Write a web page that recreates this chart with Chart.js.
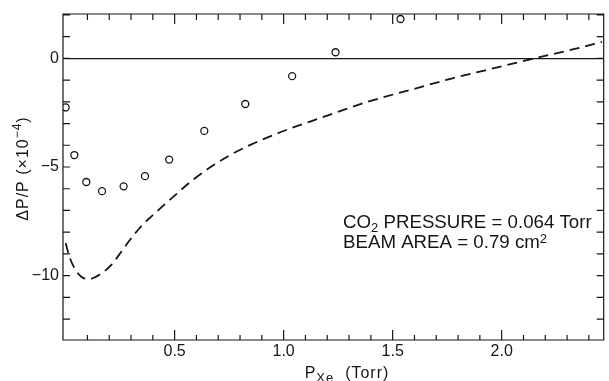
<!DOCTYPE html>
<html>
<head>
<meta charset="utf-8">
<script src="https://cdn.jsdelivr.net/npm/chart.js@4/dist/chart.umd.min.js"></script>
<style>
  html, body { margin: 0; padding: 0; background: #fff; }
</style>
</head>
<body>
<canvas id="xe-chart" width="609" height="381"></canvas>
<script>
// measured points (open circles)
var measuredP = [0.0, 0.04, 0.095, 0.167, 0.266, 0.364, 0.475, 0.636, 0.824, 1.039, 1.238, 1.536];
var measuredDelta = [-2.26, -4.45, -5.69, -6.11, -5.89, -5.42, -4.66, -3.34, -2.10, -0.82, 0.28, 1.81];

// calculated curve (dashed)
var calcP = [0.0, 0.02, 0.05, 0.08, 0.11, 0.157, 0.211, 0.256, 0.293, 0.338, 0.383, 0.429, 0.504, 0.58, 0.67, 0.76, 0.85, 0.96, 1.06, 1.15, 1.275, 1.395, 1.6, 1.77, 1.92, 2.07, 2.15, 2.33, 2.46];
var calcDelta = [-8.5, -9.2, -9.8, -10.1, -10.15, -9.95, -9.49, -8.89, -8.38, -7.83, -7.37, -6.95, -6.28, -5.62, -4.97, -4.42, -3.97, -3.5, -3.12, -2.81, -2.37, -1.97, -1.4, -0.93, -0.56, -0.2, 0.0, 0.42, 0.76];

// axis ticks
var xTicks = [0.1, 0.2, 0.3, 0.4, 0.5, 0.6, 0.7, 0.8, 0.9, 1.0, 1.1, 1.2, 1.3, 1.4, 1.5, 1.6, 1.7, 1.8, 1.9, 2.0, 2.1, 2.2, 2.3, 2.4];
var xLabels = [0.5, 1.0, 1.5, 2.0];
var yTicks = [-12, -11, -10, -9, -8, -7, -6, -5, -4, -3, -2, -1, 0, 1, 2];
var yLabels = [0, -5, -10];

var FONT = '"Liberation Sans", Arial, sans-serif';
var INK = '#161616';

function toPoints(xs, ys) {
  return xs.map(function(x, i) { return { x: x, y: ys[i] }; });
}

// draw a run of text pieces (normal / sub / superscript) left to right
function drawRuns(ctx, x, y, runs, spacing) {
  ctx.letterSpacing = (spacing || 0) + 'px';
  runs.forEach(function(r) {
    ctx.font = r[1] + 'px ' + FONT;
    ctx.fillText(r[0], x, y + r[2]);
    x += ctx.measureText(r[0]).width;
  });
  ctx.letterSpacing = '0px';
}

function runsWidth(ctx, runs, spacing) {
  var w = 0;
  ctx.letterSpacing = (spacing || 0) + 'px';
  runs.forEach(function(r) {
    ctx.font = r[1] + 'px ' + FONT;
    w += ctx.measureText(r[0]).width;
  });
  ctx.letterSpacing = '0px';
  return w;
}

// frame, inward tick marks, axis titles and the note
var decorations = {
  id: 'decorations',
  afterDatasetsDraw: function(chart) {
    var ctx = chart.ctx, a = chart.chartArea;
    var xs = chart.scales.x, ys = chart.scales.y;
    ctx.save();
    ctx.strokeStyle = INK;
    ctx.lineWidth = 1.2;
    ctx.beginPath();
    ctx.rect(a.left, a.top, a.right - a.left, a.bottom - a.top);
    xTicks.forEach(function(v) {
      var px = xs.getPixelForValue(v);
      var major = xLabels.indexOf(v) >= 0;
      ctx.moveTo(px, a.bottom);
      ctx.lineTo(px, a.bottom - (major ? 10 : 5));
      ctx.moveTo(px, a.top);
      ctx.lineTo(px, a.top + (major ? 10 : 6));
    });
    yTicks.forEach(function(v) {
      var py = ys.getPixelForValue(v);
      ctx.moveTo(a.left, py);
      ctx.lineTo(a.left + 7, py);
      ctx.moveTo(a.right, py);
      ctx.lineTo(a.right - 7, py);
    });
    ctx.stroke();

    ctx.fillStyle = INK;
    ctx.textBaseline = 'alphabetic';
    ctx.textAlign = 'left';

    // x title
    var xt = [['P', 16, 0], ['Xe', 13, 4], ['  (Torr)', 16, 0]];
    var w = runsWidth(ctx, xt, 1);
    drawRuns(ctx, 347 - w / 2, 378, xt, 1);

    // y title, rotated
    var yt = [['\u0394P/P (\u00d710', 16, 0], ['\u22124', 12, -7], [')', 16, 0]];
    var wy = runsWidth(ctx, yt, 1);
    ctx.save();
    ctx.translate(28, 168.5);
    ctx.rotate(-Math.PI / 2);
    drawRuns(ctx, -wy / 2, 0, yt, 1);
    ctx.restore();

    // note
    drawRuns(ctx, 343, 228.3, [['CO', 18.7, 0], ['2', 13, 3.4], [' PRESSURE = 0.064 Torr', 18.7, 0]]);
    drawRuns(ctx, 343, 248.3, [['BEAM AREA = 0.79 cm', 18.7, 0], ['2', 13, -5.6]]);
    ctx.restore();
  }
};

var ctx = document.getElementById('xe-chart').getContext('2d');
var chart = new Chart(ctx, {
  type: 'scatter',
  data: {
    datasets: [{
      data: toPoints(measuredP, measuredDelta),
      showLine: false,
      pointStyle: 'circle',
      pointRadius: 3.5,
      pointBorderWidth: 1.3,
      pointBorderColor: INK,
      pointBackgroundColor: 'rgba(255,255,255,0)'
    }, {
      data: toPoints(calcP, calcDelta),
      showLine: true,
      pointRadius: 0,
      borderColor: INK,
      borderWidth: 1.8,
      borderDash: [10, 6],
      cubicInterpolationMode: 'monotone',
      fill: false
    }]
  },
  options: {
    responsive: false,
    animation: false,
    devicePixelRatio: 1,
    layout: { padding: { top: 14, right: 0, left: 0, bottom: 0 } },
    plugins: { legend: { display: false }, tooltip: { enabled: false } },
    scales: {
      x: {
        type: 'linear',
        min: -0.012,
        max: 2.468,
        afterBuildTicks: function(scale) {
          scale.ticks = xTicks.map(function(v) { return { value: v }; });
        },
        afterFit: function(scale) { scale.height = 41; },
        grid: { display: false, drawTicks: false },
        border: { display: false },
        ticks: {
          autoSkip: false,
          maxRotation: 0,
          padding: 2,
          color: INK,
          font: { family: FONT, size: 16 },
          callback: function(v) { return xLabels.indexOf(v) >= 0 ? v.toFixed(1) : ''; }
        }
      },
      y: {
        type: 'linear',
        min: -12.96,
        max: 2.04,
        afterBuildTicks: function(scale) {
          scale.ticks = yTicks.map(function(v) { return { value: v }; });
        },
        afterFit: function(scale) { scale.width = 63; },
        grid: {
          drawTicks: false,
          lineWidth: 1.2,
          color: function(c) { return c.tick && c.tick.value === 0 ? INK : 'rgba(0,0,0,0)'; }
        },
        border: { display: false },
        ticks: {
          autoSkip: false,
          padding: 4,
          color: INK,
          font: { family: FONT, size: 16 },
          callback: function(v) {
            if (yLabels.indexOf(v) < 0) return '';
            return v < 0 ? '\u2212' + Math.abs(v) : String(v);
          }
        }
      }
    }
  },
  plugins: [decorations]
});
</script>
</body>
</html>
